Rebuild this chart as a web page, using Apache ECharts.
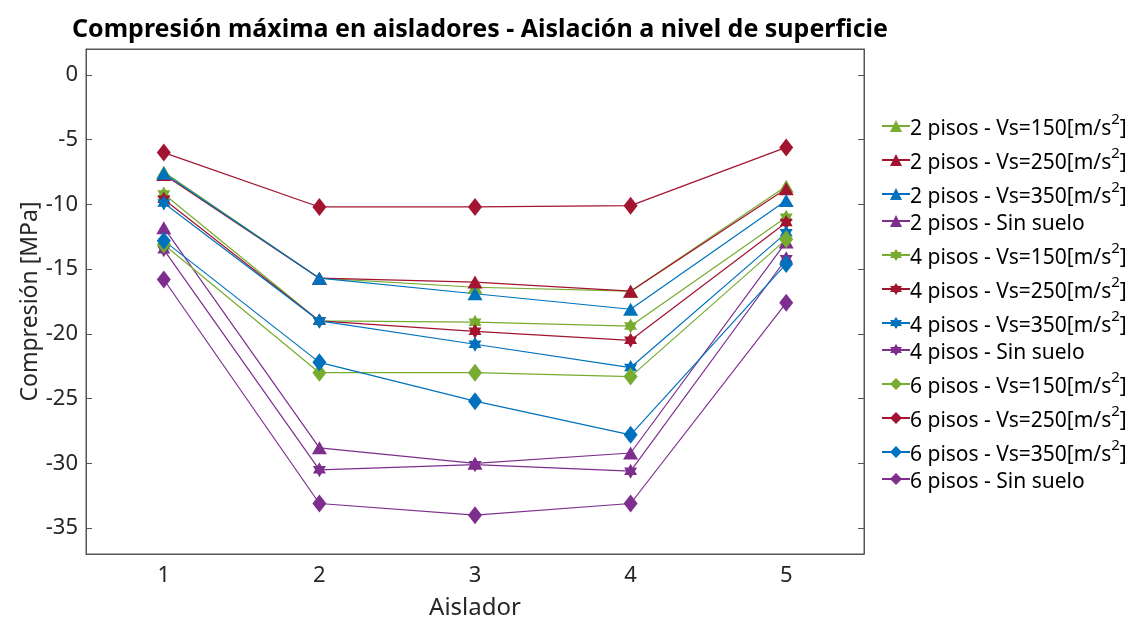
<!DOCTYPE html>
<html>
<head>
<meta charset="utf-8">
<script src="https://cdn.jsdelivr.net/npm/echarts@6/dist/echarts.min.js"></script>
<style>
  html, body { margin: 0; padding: 0; background: #fff; }
  #chart { width: 1138px; height: 622px; }
</style>
</head>
<body>
<div id="chart"></div>
<script>
// Isolator positions on the x axis
const aisladores = ['1', '2', '3', '4', '5'];
const yTicks = [0, -5, -10, -15, -20, -25, -30, -35];

// Maximum compression [MPa] per isolator
const p2_vs150 = [-7.5, -15.7, -16.4, -16.7, -8.6];
const p2_vs250 = [-7.7, -15.7, -16.0, -16.7, -8.8];
const p2_vs350 = [-7.6, -15.7, -16.9, -18.1, -9.7];
const p2_sin   = [-11.8, -28.8, -30.0, -29.2, -12.9];
const p4_vs150 = [-9.2, -19.0, -19.1, -19.4, -11.0];
const p4_vs250 = [-9.6, -19.0, -19.8, -20.5, -11.4];
const p4_vs350 = [-9.9, -19.0, -20.8, -22.6, -12.2];
const p4_sin   = [-13.5, -30.5, -30.1, -30.6, -14.2];
const p6_vs150 = [-13.1, -23.0, -23.0, -23.3, -12.7];
const p6_vs250 = [-6.0, -10.2, -10.2, -10.1, -5.6];
const p6_vs350 = [-12.8, -22.2, -25.2, -27.8, -14.6];
const p6_sin   = [-15.8, -33.1, -34.0, -33.1, -17.6];

const GREEN = '#77AC30', RED = '#A2142F', BLUE = '#0072BD', PURPLE = '#7E2F8E';

const TRI = 'triangle';
const HEX = 'path://M0,-1L0.289,-0.5L0.866,-0.5L0.577,0L0.866,0.5L0.289,0.5L0,1L-0.289,0.5L-0.866,0.5L-0.577,0L-0.866,-0.5L-0.289,-0.5Z';
const DIA = 'path://M0,-1.3L1,0L0,1.3L-1,0Z';

const seriesDefs = [
  ['2 pisos - Vs=150[m/s2]', p2_vs150, GREEN, TRI, [15, 13]],
  ['2 pisos - Vs=250[m/s2]', p2_vs250, RED, TRI, [15, 13]],
  ['2 pisos - Vs=350[m/s2]', p2_vs350, BLUE, TRI, [15, 13]],
  ['2 pisos - Sin suelo', p2_sin, PURPLE, TRI, [15, 13]],
  ['4 pisos - Vs=150[m/s2]', p4_vs150, GREEN, HEX, [13, 15]],
  ['4 pisos - Vs=250[m/s2]', p4_vs250, RED, HEX, [13, 15]],
  ['4 pisos - Vs=350[m/s2]', p4_vs350, BLUE, HEX, [13, 15]],
  ['4 pisos - Sin suelo', p4_sin, PURPLE, HEX, [13, 15]],
  ['6 pisos - Vs=150[m/s2]', p6_vs150, GREEN, DIA, [14, 18]],
  ['6 pisos - Vs=250[m/s2]', p6_vs250, RED, DIA, [14, 18]],
  ['6 pisos - Vs=350[m/s2]', p6_vs350, BLUE, DIA, [14, 18]],
  ['6 pisos - Sin suelo', p6_sin, PURPLE, DIA, [14, 18]]
];

const FONT = 'Noto Sans';
const TXT = '#262626';
const AX = '#555';

const series = seriesDefs.map(([name, data, color, symbol, size]) => ({
  name: name,
  type: 'line',
  data: data,
  symbol: symbol,
  symbolSize: size,
  showSymbol: true,
  animation: false,
  lineStyle: { color: color, width: 1.2 },
  itemStyle: { color: color, borderWidth: 0 },
  emphasis: { disabled: true }
}));

const chart = echarts.init(document.getElementById('chart'), null, { renderer: 'canvas' });

chart.setOption({
  backgroundColor: '#fff',
  animation: false,
  title: {
    text: 'Compresión máxima en aisladores - Aislación a nivel de superficie',
    left: 475,
    top: 12,
    textAlign: 'center',
    textStyle: { fontFamily: FONT, fontSize: 25, fontWeight: 'bold', color: '#000' }
  },
  grid: {
    left: 86, top: 49, right: 274, bottom: 68,
    outerBoundsMode: 'none',
    containLabel: false,
    show: true, borderColor: AX, borderWidth: 1
  },
  legend: {
    orient: 'vertical',
    left: 876,
    top: 107,
    itemWidth: 28,
    itemHeight: 15,
    itemGap: 6,
    selectedMode: false,
    formatter: function (name) {
      if (name.indexOf('m/s2') >= 0) {
        const base = name.replace('m/s2]', 'm/s');
        return '{t|' + base + '}{s|2}{t|]}';
      }
      return '{t|' + name + '}';
    },
    textStyle: {
      fontFamily: FONT,
      color: '#000',
      padding: [0, 0, 0, -5],
      rich: {
        t: { fontFamily: FONT, fontSize: 21, color: '#000', lineHeight: 28, verticalAlign: 'bottom' },
        s: { fontFamily: FONT, fontSize: 15, color: '#000', lineHeight: 15, verticalAlign: 'top' }
      }
    }
  },
  xAxis: [{
    type: 'category',
    data: aisladores,
    boundaryGap: true,
    name: 'Aislador',
    nameLocation: 'middle',
    nameGap: 42,
    nameMoveOverlap: false,
    nameTextStyle: { fontFamily: FONT, fontSize: 24, color: TXT },
    axisLine: { onZero: false, lineStyle: { color: AX, width: 1 } },
    axisTick: { alignWithLabel: true, inside: true, length: 6, lineStyle: { color: AX } },
    axisLabel: { fontFamily: FONT, fontSize: 22, color: TXT, margin: 11 },
    splitLine: { show: false }
  }, {
    type: 'category',
    data: aisladores,
    position: 'top',
    boundaryGap: true,
    axisLine: { onZero: false, lineStyle: { color: AX, width: 1 } },
    axisTick: { alignWithLabel: true, inside: true, length: 6, lineStyle: { color: AX } },
    axisLabel: { show: false },
    splitLine: { show: false }
  }],
  yAxis: [{
    type: 'value',
    min: -37,
    max: 2,
    name: 'Compresión [MPa]',
    nameLocation: 'middle',
    nameGap: 44,
    nameMoveOverlap: false,
    nameTextStyle: { fontFamily: FONT, fontSize: 23, color: TXT },
    axisLine: { show: true, onZero: false, lineStyle: { color: AX, width: 1 } },
    axisTick: { show: true, inside: true, length: 6, customValues: yTicks, lineStyle: { color: AX } },
    axisLabel: { fontFamily: FONT, fontSize: 22, color: TXT, margin: 8, customValues: yTicks },
    splitLine: { show: false }
  }, {
    type: 'value',
    min: -37,
    max: 2,
    position: 'right',
    axisLine: { show: true, onZero: false, lineStyle: { color: AX, width: 1 } },
    axisTick: { show: true, inside: true, length: 6, customValues: yTicks, lineStyle: { color: AX } },
    axisLabel: { show: false },
    splitLine: { show: false }
  }],
  series: series
});
</script>
</body>
</html>
